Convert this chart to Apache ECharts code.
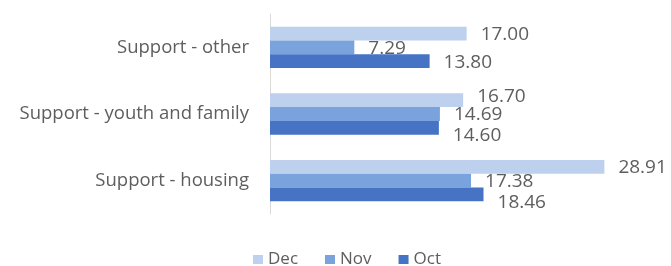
<!DOCTYPE html>
<html>
<head>
<meta charset="utf-8">
<script src="https://cdn.jsdelivr.net/npm/echarts@6/dist/echarts.min.js"></script>
<style>
  html, body { margin: 0; padding: 0; background: #fff; }
  #chart { width: 671px; height: 266px; }
</style>
</head>
<body>
<div id="chart"></div>
<script>
// categories bottom -> top (echarts draws first category at the bottom)
const categories = ['Support - housing', 'Support - youth and family', 'Support - other'];
const decValues = [28.91, 16.70, 17.00];
const novValues = [17.38, 14.69, 7.29];
const octValues = [18.46, 14.60, 13.80];

const seriesNames = ['Dec', 'Nov', 'Oct'];
const seriesColors = ['#bdd0ee', '#7aa3dd', '#4673c4'];

const font = '"Open Sans", Lato, sans-serif';
const textColor = '#5e5e5e';

const chart = echarts.init(document.getElementById('chart'), null, { renderer: 'canvas' });

// nudge value labels apart when a neighbour's bar ends close by (like Excel does)
const closeTo = (a, b) => Math.abs(a - b) < 4;
const labelShift = (seriesIdx, i) => {
  if (seriesIdx === 0 && closeTo(decValues[i], novValues[i])) return -5;
  if (seriesIdx === 2 && closeTo(octValues[i], novValues[i])) return 7;
  return 0;
};

const makeSeries = (name, data, color, seriesIdx) => ({
  name,
  type: 'bar',
  data,
  barGap: '0%',
  barCategoryGap: '38%',
  itemStyle: { color },
  label: {
    show: true,
    position: 'right',
    distance: 14,
    color: textColor,
    fontFamily: font,
    fontSize: 19,
    formatter: (p) => p.value.toFixed(2),
  },
  labelLayout: (p) => ({ dy: 1 + labelShift(seriesIdx, p.dataIndex) }),
});

chart.setOption({
  animation: false,
  color: seriesColors,
  grid: { left: 270, top: 14, bottom: 52, right: 54 },
  legend: {
    top: 246,
    left: 248,
    itemWidth: 10,
    itemHeight: 9,
    itemGap: 27,
    icon: 'rect',
    textStyle: { color: textColor, fontFamily: font, fontSize: 17 },
    data: seriesNames,
  },
  xAxis: {
    type: 'value',
    min: 0,
    max: 30,
    show: false,
  },
  yAxis: {
    type: 'category',
    data: categories,
    axisLine: { show: true, lineStyle: { color: '#d9d9d9' } },
    axisTick: { show: false },
    axisLabel: { color: textColor, fontFamily: font, fontSize: 18.5, margin: 21 },
  },
  series: [
    makeSeries('Dec', decValues, seriesColors[0], 0),
    makeSeries('Nov', novValues, seriesColors[1], 1),
    makeSeries('Oct', octValues, seriesColors[2], 2),
  ],
});
</script>
</body>
</html>
